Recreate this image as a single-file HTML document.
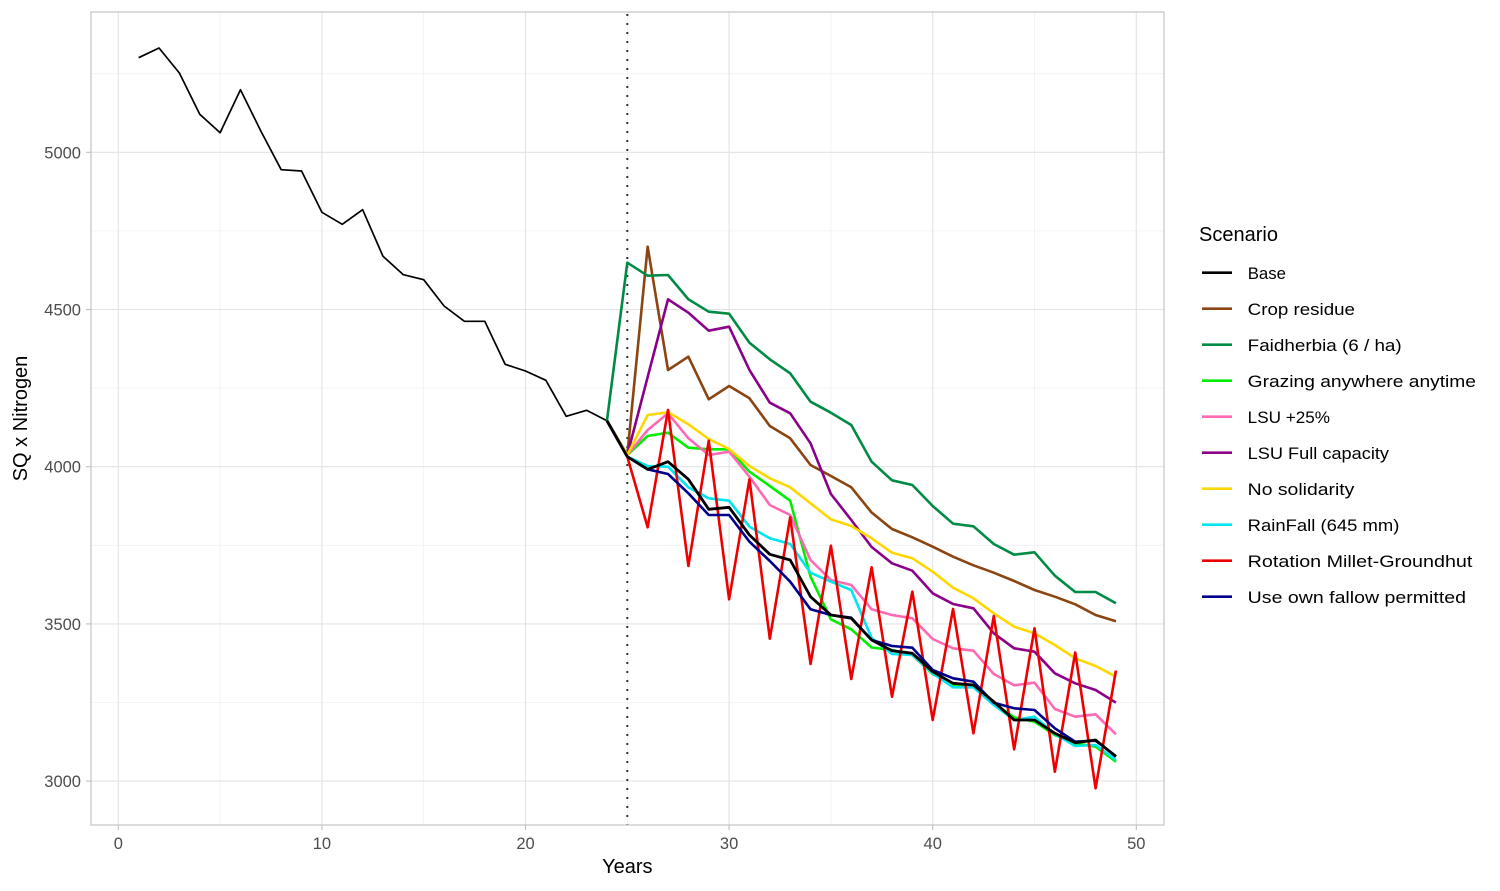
<!DOCTYPE html>
<html>
<head>
<meta charset="utf-8">
<style>
  html, body { margin:0; padding:0; background:#ffffff; }
  svg { display:block; }
  text { font-family: "Liberation Sans", "DejaVu Sans", sans-serif; }
</style>
</head>
<body>
<svg width="1500" height="891" viewBox="0 0 1500 891" xmlns="http://www.w3.org/2000/svg">
  <rect x="0" y="0" width="1500" height="891" fill="#ffffff"/>
  <rect x="91" y="12" width="1073" height="813" fill="#ffffff"/>
  <g stroke="#f0f0f0" stroke-width="0.8" fill="none">
    <line x1="220.1" y1="12" x2="220.1" y2="825"/>
    <line x1="423.7" y1="12" x2="423.7" y2="825"/>
    <line x1="627.3" y1="12" x2="627.3" y2="825"/>
    <line x1="830.9" y1="12" x2="830.9" y2="825"/>
    <line x1="1034.5" y1="12" x2="1034.5" y2="825"/>
    <line x1="91" y1="73.7" x2="1164" y2="73.7"/>
    <line x1="91" y1="230.9" x2="1164" y2="230.9"/>
    <line x1="91" y1="388.1" x2="1164" y2="388.1"/>
    <line x1="91" y1="545.3" x2="1164" y2="545.3"/>
    <line x1="91" y1="702.5" x2="1164" y2="702.5"/>
  </g>
  <g stroke="#e3e3e3" stroke-width="1.1" fill="none">
    <line x1="118.3" y1="12" x2="118.3" y2="825"/>
    <line x1="321.9" y1="12" x2="321.9" y2="825"/>
    <line x1="525.5" y1="12" x2="525.5" y2="825"/>
    <line x1="729.1" y1="12" x2="729.1" y2="825"/>
    <line x1="932.7" y1="12" x2="932.7" y2="825"/>
    <line x1="1136.3" y1="12" x2="1136.3" y2="825"/>
    <line x1="91" y1="152.3" x2="1164" y2="152.3"/>
    <line x1="91" y1="309.5" x2="1164" y2="309.5"/>
    <line x1="91" y1="466.7" x2="1164" y2="466.7"/>
    <line x1="91" y1="623.9" x2="1164" y2="623.9"/>
    <line x1="91" y1="781.1" x2="1164" y2="781.1"/>
  </g>

  <line x1="627.3" y1="14" x2="627.3" y2="825" stroke="#333333" stroke-width="2" stroke-dasharray="2 7"/>

  <polyline fill="none" stroke="#000000" stroke-width="1.7" stroke-linejoin="round"
    points="138.66,57.7 159.02,48 179.38,73 199.74,114.3 220.1,132.7 240.46,89.7 260.82,131 281.18,169.7 301.54,171 321.9,212.3 342.26,224.3 362.62,209.7 382.98,256.3 403.34,274.7 423.7,279.7 444.06,306 464.42,321.3 484.78,321.3 505.14,364.3 525.5,371 545.86,380.3 566.22,416.3 586.58,410.3 606.94,420.7 627.3,455"/>

  <g fill="none" stroke-width="2.6" stroke-linejoin="round">
    <polyline stroke="#8B4513" points="606.94,420.7 627.3,455 647.66,246.7 668.02,370 688.38,356.7 708.74,399.3 729.1,386 749.46,398.3 769.82,426 790.18,438.3 810.54,465 830.9,476 851.26,487.3 871.62,512.5 891.98,529 912.34,537.3 932.7,546.7 953.06,556.7 973.42,565.3 993.78,572.7 1014.14,581 1034.5,590 1054.86,596.7 1075.22,604.3 1095.58,615 1115.94,621.3"/>
    <polyline stroke="#008B45" points="606.94,420.7 627.3,262.7 647.66,275.7 668.02,275 688.38,299.3 708.74,311.7 729.1,313.7 749.46,342.7 769.82,359.3 790.18,373.3 810.54,401.7 830.9,412.7 851.26,425 871.62,461.7 891.98,480.3 912.34,485 932.7,506 953.06,523.7 973.42,526.3 993.78,544 1014.14,554.7 1034.5,552.3 1054.86,575.7 1075.22,592 1095.58,592 1115.94,603.3"/>
    <polyline stroke="#00EE00" points="606.94,420.7 627.3,455 647.66,436 668.02,432.7 688.38,447.7 708.74,449.3 729.1,449.3 749.46,471.7 769.82,486 790.18,500.7 810.54,576.7 830.9,619.3 851.26,629.3 871.62,647.5 891.98,650 912.34,655 932.7,674 953.06,685 973.42,686.7 993.78,703.3 1014.14,717.3 1034.5,721.7 1054.86,735 1075.22,743.3 1095.58,746.7 1115.94,761.7"/>
    <polyline stroke="#FF69B4" points="606.94,420.7 627.3,455 647.66,430 668.02,413.3 688.38,438.3 708.74,455 729.1,451.7 749.46,476.7 769.82,505 790.18,515 810.54,560 830.9,580 851.26,585 871.62,609.3 891.98,615 912.34,618.3 932.7,639 953.06,648.3 973.42,650.7 993.78,674 1014.14,685.3 1034.5,682.7 1054.86,709 1075.22,716.7 1095.58,714.3 1115.94,734.3"/>
    <polyline stroke="#8B008B" points="606.94,420.7 627.3,455 647.66,377 668.02,299.3 688.38,312.7 708.74,330.7 729.1,326.7 749.46,370 769.82,402.7 790.18,413.3 810.54,443.3 830.9,494 851.26,520 871.62,547 891.98,563.3 912.34,570.7 932.7,593.3 953.06,604 973.42,608.3 993.78,633.3 1014.14,648.3 1034.5,651.7 1054.86,673.3 1075.22,683.3 1095.58,690 1115.94,702.7"/>
    <polyline stroke="#FFD700" points="606.94,420.7 627.3,455 647.66,415 668.02,412.3 688.38,424.3 708.74,439 729.1,449 749.46,466 769.82,478.3 790.18,487.3 810.54,503.3 830.9,519.3 851.26,526 871.62,538.3 891.98,552.7 912.34,558.3 932.7,571.7 953.06,587.7 973.42,598.3 993.78,613.3 1014.14,626.7 1034.5,633.3 1054.86,645 1075.22,658.3 1095.58,666 1115.94,676.7"/>
    <polyline stroke="#00E5EE" points="606.94,420.7 627.3,456.7 647.66,466 668.02,466.7 688.38,487.3 708.74,498.3 729.1,500.7 749.46,526.7 769.82,538.3 790.18,544 810.54,572.7 830.9,581.7 851.26,590 871.62,638 891.98,654 912.34,655 932.7,673.3 953.06,687.3 973.42,687.3 993.78,705 1014.14,720 1034.5,716.7 1054.86,734 1075.22,746 1095.58,745 1115.94,760"/>
    <polyline stroke="#EE0000" points="606.94,420.7 627.3,456.7 647.66,527.3 668.02,410 688.38,566 708.74,440.7 729.1,599.3 749.46,479.3 769.82,638.7 790.18,517.3 810.54,664 830.9,545.7 851.26,679 871.62,567.3 891.98,696.7 912.34,591.7 932.7,720 953.06,609 973.42,733.3 993.78,616 1014.14,749.3 1034.5,628.3 1054.86,771.7 1075.22,652.5 1095.58,788.3 1115.94,670.5"/>
    <polyline stroke="#00008B" points="606.94,420.7 627.3,456.7 647.66,469.3 668.02,474 688.38,493.3 708.74,515 729.1,515 749.46,541.7 769.82,561 790.18,581.7 810.54,609.3 830.9,615 851.26,617.7 871.62,640 891.98,646 912.34,647.7 932.7,670 953.06,678.3 973.42,681.7 993.78,702.7 1014.14,708.3 1034.5,710 1054.86,728.3 1075.22,741.7 1095.58,740.7 1115.94,756"/>
    <polyline stroke="#000000" stroke-width="2.8" points="606.94,420.7 627.3,456.7 647.66,469.3 668.02,461.7 688.38,479.3 708.74,509.3 729.1,507.3 749.46,535 769.82,554.3 790.18,560 810.54,596.7 830.9,615 851.26,618.3 871.62,640 891.98,650.7 912.34,653.3 932.7,671.7 953.06,683.3 973.42,685 993.78,701.7 1014.14,720 1034.5,720 1054.86,733.3 1075.22,742.7 1095.58,740 1115.94,756.7"/>
  </g>

  <rect x="91" y="12" width="1073" height="813" fill="none" stroke="#c8c8c8" stroke-width="1.3"/>

  <g stroke="#c0c0c0" stroke-width="1.1">
    <line x1="118.3" y1="825" x2="118.3" y2="830"/>
    <line x1="321.9" y1="825" x2="321.9" y2="830"/>
    <line x1="525.5" y1="825" x2="525.5" y2="830"/>
    <line x1="729.1" y1="825" x2="729.1" y2="830"/>
    <line x1="932.7" y1="825" x2="932.7" y2="830"/>
    <line x1="1136.3" y1="825" x2="1136.3" y2="830"/>
    <line x1="86" y1="152.3" x2="91" y2="152.3"/>
    <line x1="86" y1="309.5" x2="91" y2="309.5"/>
    <line x1="86" y1="466.7" x2="91" y2="466.7"/>
    <line x1="86" y1="623.9" x2="91" y2="623.9"/>
    <line x1="86" y1="781.1" x2="91" y2="781.1"/>
  </g>

  <g fill="#4d4d4d" font-size="16.5" text-anchor="middle">
    <text x="118.3" y="849">0</text>
    <text x="321.9" y="849">10</text>
    <text x="525.5" y="849">20</text>
    <text x="729.1" y="849">30</text>
    <text x="932.7" y="849">40</text>
    <text x="1136.3" y="849">50</text>
  </g>
  <g fill="#4d4d4d" font-size="16.5" text-anchor="end">
    <text x="81" y="158.3">5000</text>
    <text x="81" y="315.5">4500</text>
    <text x="81" y="472.7">4000</text>
    <text x="81" y="629.9">3500</text>
    <text x="81" y="787.1">3000</text>
  </g>

  <text x="627.3" y="873" font-size="20" text-anchor="middle" fill="#000000">Years</text>
  <text transform="translate(27,418.5) rotate(-90)" font-size="20" text-anchor="middle" fill="#000000">SQ x Nitrogen</text>

  <text x="1199" y="241" font-size="20" fill="#000000">Scenario</text>
  <g stroke-width="2.6">
    <line x1="1202" y1="272.7" x2="1232" y2="272.7" stroke="#000000"/>
    <line x1="1202" y1="308.7" x2="1232" y2="308.7" stroke="#8B4513"/>
    <line x1="1202" y1="344.7" x2="1232" y2="344.7" stroke="#008B45"/>
    <line x1="1202" y1="380.7" x2="1232" y2="380.7" stroke="#00EE00"/>
    <line x1="1202" y1="416.7" x2="1232" y2="416.7" stroke="#FF69B4"/>
    <line x1="1202" y1="452.7" x2="1232" y2="452.7" stroke="#8B008B"/>
    <line x1="1202" y1="488.7" x2="1232" y2="488.7" stroke="#FFD700"/>
    <line x1="1202" y1="524.7" x2="1232" y2="524.7" stroke="#00E5EE"/>
    <line x1="1202" y1="560.7" x2="1232" y2="560.7" stroke="#EE0000"/>
    <line x1="1202" y1="596.7" x2="1232" y2="596.7" stroke="#00008B"/>
  </g>
  <g font-size="17" fill="#000000">
    <text x="1247.7" y="279" textLength="38.3" lengthAdjust="spacingAndGlyphs">Base</text>
    <text x="1247.7" y="315" textLength="107.3" lengthAdjust="spacingAndGlyphs">Crop residue</text>
    <text x="1247.7" y="351" textLength="154" lengthAdjust="spacingAndGlyphs">Faidherbia (6 / ha)</text>
    <text x="1247.7" y="387" textLength="228.3" lengthAdjust="spacingAndGlyphs">Grazing anywhere anytime</text>
    <text x="1247.7" y="423" textLength="82.3" lengthAdjust="spacingAndGlyphs">LSU +25%</text>
    <text x="1247.7" y="459" textLength="141.3" lengthAdjust="spacingAndGlyphs">LSU Full capacity</text>
    <text x="1247.7" y="495" textLength="106.7" lengthAdjust="spacingAndGlyphs">No solidarity</text>
    <text x="1247.7" y="531" textLength="151.7" lengthAdjust="spacingAndGlyphs">RainFall (645 mm)</text>
    <text x="1247.7" y="567" textLength="224.7" lengthAdjust="spacingAndGlyphs">Rotation Millet-Groundhut</text>
    <text x="1247.7" y="603" textLength="218.3" lengthAdjust="spacingAndGlyphs">Use own fallow permitted</text>
  </g>
</svg>
</body>
</html>
